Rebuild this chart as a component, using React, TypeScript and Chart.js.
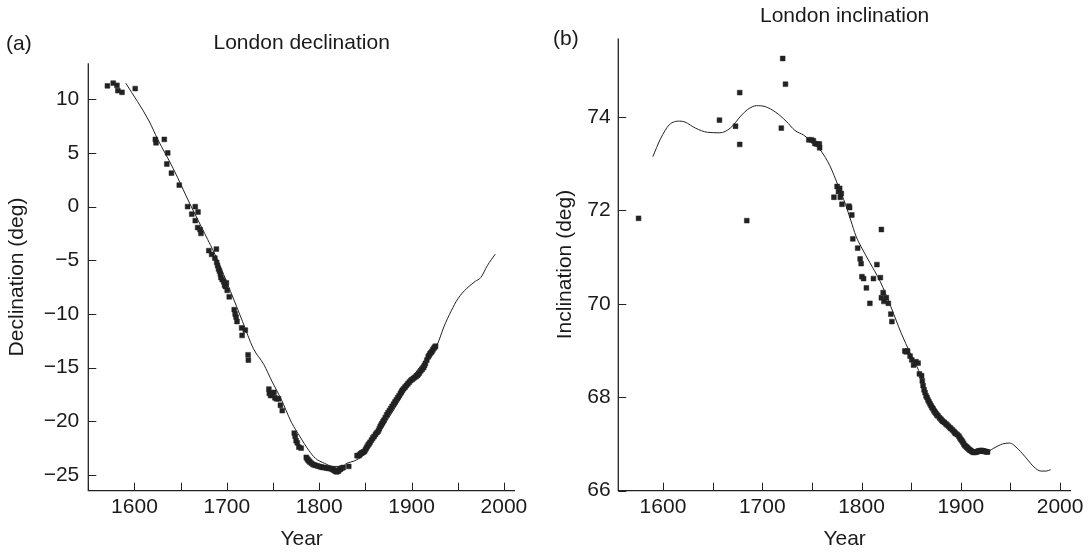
import React, { useEffect, useRef } from "react";
import { Chart, registerables } from "chart.js";

Chart.register(...registerables);

// ---------------- Data: London declination (panel a) ----------------
const declObsYears = [
  1570.7, 1577, 1581, 1582, 1586.5, 1600.8,
  1622.6, 1623.3, 1632.3, 1636, 1635, 1640, 1648.5,
  1657.5, 1665.8, 1662, 1665.8, 1668.8, 1668.4, 1671, 1672,
  1680.5, 1683.5, 1688.7, 1687, 1689, 1690, 1691, 1692, 1693, 1693.6, 1695, 1696.6, 1697.5, 1698.5, 1699.5, 1700.4, 1702.6,
  1708, 1709, 1710, 1711, 1716, 1716.5, 1720, 1723, 1723.3,
  1745.5, 1746, 1747.4, 1749, 1751, 1752, 1753.8, 1756, 1758, 1760,
  1773, 1774, 1775, 1776.3, 1778, 1780.5,
  1786, 1787, 1788, 1789, 1790, 1791.5, 1793, 1794.5, 1796, 1798, 1800, 1802, 1804, 1806, 1808, 1810, 1812, 1814,
  1815, 1816, 1817, 1818, 1819, 1820, 1821, 1822, 1823, 1824.5, 1826, 1832,
  1841, 1842, 1843, 1844, 1845, 1846, 1847, 1848, 1849, 1850, 1851, 1852, 1853, 1854, 1855, 1856.5, 1858, 1859.5,
  1861, 1862.5, 1864, 1865, 1866, 1867, 1868, 1869, 1870, 1871.5, 1873, 1874.5, 1876, 1877.5, 1879, 1880.5, 1882,
  1883.5, 1885, 1886.5, 1888, 1889, 1890, 1891.5, 1893, 1894.5, 1896, 1897.5, 1899, 1900.5, 1902, 1903.5, 1905,
  1906, 1907, 1908.5, 1910, 1911.5, 1913, 1914, 1915, 1916.5, 1918, 1919, 1920, 1921, 1922, 1923, 1924, 1925, 1926,
];
const declObsValues = [
  11.25, 11.5, 11.3, 10.8, 10.65, 11.0,
  6.26, 5.95, 6.26, 5.0, 3.97, 3.12, 2.0,
  0.0, 0.0, -0.7, -1.3, -0.5, -1.95, -2.15, -2.5,
  -4.1, -4.45, -3.95, -4.8, -5.2, -5.5, -5.8, -6.0, -6.3, -6.6, -6.8, -7.0, -7.3, -7.45, -7.1, -7.8, -8.4,
  -9.6, -10.0, -10.3, -10.7, -11.3, -12.0, -11.5, -13.8, -14.3,
  -17.0, -17.4, -17.6, -17.4, -17.3, -17.8, -17.9, -17.9, -18.5, -19.0,
  -21.1, -21.4, -21.8, -22.0, -22.4, -22.5,
  -23.35, -23.5, -23.6, -23.7, -23.8, -23.9, -24.0, -24.05, -24.1, -24.15, -24.2, -24.25, -24.3, -24.3, -24.35, -24.38, -24.4, -24.45,
  -24.5, -24.55, -24.6, -24.65, -24.7, -24.65, -24.6, -24.5, -24.45, -24.35, -24.3, -24.2,
  -23.2, -23.2, -23.2, -23.1, -23.0, -22.95, -22.9, -22.85, -22.8, -22.65, -22.5, -22.35, -22.2, -22.1, -21.95, -21.75, -21.55, -21.4,
  -21.2, -21.05, -20.9, -20.7, -20.5, -20.35, -20.2, -20.05, -19.9, -19.65, -19.4, -19.2, -19.0, -18.8, -18.6, -18.4, -18.2,
  -18.0, -17.8, -17.6, -17.4, -17.25, -17.1, -16.95, -16.8, -16.65, -16.5, -16.35, -16.2, -16.1, -16.0, -15.9, -15.8,
  -15.72, -15.65, -15.5, -15.3, -15.15, -15.0, -14.8, -14.6, -14.3, -14.0, -13.85, -13.7, -13.6, -13.5, -13.35, -13.2, -13.1, -13.0,
];
const declModelYears = [
  1590.6, 1615.8, 1625, 1642, 1660, 1676, 1689, 1704, 1717, 1728.6, 1740, 1749, 1758.6, 1770, 1779, 1788.7,
  1796, 1805.6, 1815, 1824.4, 1830, 1837.6, 1847, 1860, 1875, 1890, 1905, 1920, 1927.8, 1935, 1943, 1950,
  1960, 1969, 1975, 1982, 1990.6,
];
const declModelValues = [
  11.5, 7.97, 6.3, 3.54, 0.26, -2.5, -4.8, -7.9, -10.7, -13.2, -14.7, -16.3, -17.9, -20.1, -21.4, -22.7,
  -23.45, -23.9, -24.2, -24.2, -23.9, -23.7, -23.2, -21.7, -19.7, -17.6, -15.4, -13.8, -12.85, -11.2, -9.7, -8.6,
  -7.6, -6.96, -6.6, -5.5, -4.43,
];

// ---------------- Data: London inclination (panel b) ----------------
const inclObsYears = [
  1575.4, 1656.9, 1673.1, 1677.3, 1677.3, 1684.4, 1720.6, 1723.4, 1719.2,
  1746.9, 1749.4, 1751.5, 1753, 1755, 1757.8, 1757.5,
  1772.2, 1775.4, 1776.8, 1778.6, 1780.3, 1778, 1779.6, 1787.3, 1788, 1790.2, 1791.2, 1796.1, 1798.6, 1799.6,
  1800.4, 1802.1, 1804.9, 1808.4, 1812, 1815.5, 1819, 1820, 1820, 1821.8, 1822.5, 1825, 1827, 1829.5, 1830.6,
  1843.6, 1845, 1846.4, 1848.9, 1850.6, 1852.4, 1854.8, 1857, 1858.3, 1860.5, 1861.2,
  1862, 1863, 1864, 1865, 1866, 1867, 1868, 1869, 1870, 1871, 1872, 1873, 1874, 1875, 1876, 1877, 1878.5, 1880,
  1881, 1882, 1883.5, 1885, 1886, 1887.5, 1889, 1890, 1891.5, 1893, 1894, 1895, 1896.5, 1898, 1899, 1900, 1901,
  1902, 1903, 1904, 1905, 1906, 1907, 1908, 1909, 1910, 1911, 1912, 1913, 1914, 1915, 1916, 1917, 1918, 1919,
  1920, 1921, 1922, 1923, 1924, 1925, 1926, 1927,
];
const inclObsValues = [
  71.83, 73.93, 73.8, 74.52, 73.41, 71.78, 75.25, 74.7, 73.76,
  73.51, 73.51, 73.49, 73.43, 73.42, 73.34, 73.42,
  72.28, 72.51, 72.4, 72.28, 72.13, 72.47, 72.36, 72.09, 72.06, 71.9, 71.39, 71.19, 70.96, 70.86,
  70.58, 70.54, 70.34, 70.01, 70.54, 70.84, 70.56, 71.59, 70.13, 70.24, 70.05, 70.13, 70.01, 69.78, 69.62,
  68.99, 68.97, 68.99, 68.88, 68.8, 68.69, 68.76, 68.73, 68.5, 68.46, 68.35,
  68.25, 68.16, 68.1, 68.03, 67.99, 67.94, 67.9, 67.86, 67.82, 67.78, 67.75, 67.71, 67.68, 67.65, 67.62, 67.6, 67.56, 67.53,
  67.5, 67.48, 67.46, 67.43, 67.41, 67.38, 67.35, 67.33, 67.3, 67.27, 67.24, 67.22, 67.2, 67.17, 67.13, 67.1, 67.07,
  67.04, 67.0, 66.97, 66.95, 66.93, 66.91, 66.89, 66.87, 66.86, 66.84, 66.83, 66.82, 66.82, 66.83, 66.83, 66.84, 66.85, 66.85,
  66.86, 66.86, 66.85, 66.85, 66.84, 66.84, 66.83, 66.83,
];
const inclModelYears = [
  1589.8, 1597.5, 1606.3, 1616.9, 1622.1, 1632.7, 1645, 1657.3, 1667.8, 1678.4, 1685.4, 1694.2, 1703, 1713.5,
  1724, 1732.9, 1741.7, 1748.7, 1759.2, 1768, 1776.8, 1783.8, 1789.1, 1794.4, 1799.6, 1808.4, 1819, 1829.5,
  1840, 1848.9, 1857.6, 1864.7, 1875.2, 1889.3, 1903.3, 1913.9, 1924.4, 1933.2, 1942, 1949, 1957.8, 1966.6,
  1973.6, 1980.7, 1986, 1990.5,
];
const inclModelValues = [
  73.15, 73.53, 73.83, 73.91, 73.89, 73.76, 73.67, 73.66, 73.76, 74.02, 74.16, 74.24, 74.22, 74.1,
  73.91, 73.71, 73.61, 73.49, 73.27, 72.96, 72.51, 72.13, 71.79, 71.45, 71.22, 70.88, 70.47, 69.94,
  69.37, 68.95, 68.57, 68.12, 67.74, 67.36, 67.02, 66.83, 66.82, 66.91, 67.0, 67.02, 66.89, 66.68,
  66.51, 66.42, 66.42, 66.45,
];

// ---------------- Text ----------------
const declTitle = "London declination";
const inclTitle = "London inclination";
const declTag = "(a)";
const inclTag = "(b)";
const xAxisLabel = "Year";
const declAxisLabel = "Declination (deg)";
const inclAxisLabel = "Inclination (deg)";

const FONT_FAMILY = '"Liberation Sans", Arial, Helvetica, sans-serif';
const FONT_SIZE = 21;
const TEXT_COLOR = "#1a1a1a";
const INK = "#222222";

const toPoints = (xs: number[], ys: number[]) => xs.map((x, i) => ({ x, y: ys[i] }));

const minusFmt = (v: number) => (v < 0 ? "\u2212" + Math.abs(v) : String(v));

function decorPlugin(title: string, titleY: number, tag: string, tagX: number, tagY: number) {
  return {
    id: "decor",
    afterDraw(chart: any) {
      const { ctx, chartArea: a, scales } = chart;
      ctx.save();
      ctx.strokeStyle = INK;
      ctx.lineWidth = 1.3;
      ctx.beginPath();
      ctx.moveTo(a.left, a.top);
      ctx.lineTo(a.left, a.bottom);
      ctx.lineTo(a.right, a.bottom);
      ctx.stroke();
      ctx.lineWidth = 1;
      ctx.beginPath();
      for (const t of scales.x.ticks) {
        const px = Math.round(scales.x.getPixelForValue(t.value)) + 0.5;
        ctx.moveTo(px, a.bottom);
        ctx.lineTo(px, a.bottom - 8);
      }
      for (const t of scales.y.ticks) {
        const py = Math.round(scales.y.getPixelForValue(t.value)) + 0.5;
        ctx.moveTo(a.left, py);
        ctx.lineTo(a.left + 8, py);
      }
      ctx.stroke();
      ctx.fillStyle = TEXT_COLOR;
      ctx.font = `${FONT_SIZE}px ${FONT_FAMILY}`;
      ctx.textBaseline = "middle";
      ctx.textAlign = "center";
      ctx.fillText(title, (a.left + a.right) / 2, titleY);
      ctx.textAlign = "left";
      ctx.fillText(tag, tagX, tagY);
      ctx.restore();
    },
  };
}

interface PanelSpec {
  obs: { x: number; y: number }[];
  model: { x: number; y: number }[];
  xMin: number;
  xMax: number;
  yMin: number;
  yMax: number;
  yStep: number;
  yLabel: string;
  yAxisWidth: number;
  yTitlePad: number;
  yTickPad: number;
  padTop: number;
  padRight: number;
  title: string;
  titleY: number;
  tag: string;
  tagX: number;
  tagY: number;
}

function makeConfig(p: PanelSpec): any {
  const font = { family: FONT_FAMILY, size: FONT_SIZE };
  return {
    type: "scatter",
    data: {
      datasets: [
        {
          data: p.obs,
          pointStyle: "rect",
          pointRadius: 3.4,
          pointBackgroundColor: INK,
          pointBorderColor: INK,
          pointBorderWidth: 0.5,
          showLine: false,
        },
        {
          data: p.model,
          showLine: true,
          pointRadius: 0,
          borderColor: INK,
          borderWidth: 1,
          cubicInterpolationMode: "monotone",
          fill: false,
        },
      ],
    },
    options: {
      responsive: false,
      animation: false,
      events: [],
      layout: { padding: { top: p.padTop, right: p.padRight, left: 0, bottom: 0 } },
      plugins: { legend: { display: false }, tooltip: { enabled: false }, title: { display: false } },
      scales: {
        x: {
          type: "linear",
          min: p.xMin,
          max: p.xMax,
          afterFit: (s: any) => {
            s.height = 61.3;
          },
          grid: { display: false, drawTicks: false },
          border: { display: false },
          ticks: {
            stepSize: 50,
            includeBounds: false,
            autoSkip: false,
            maxRotation: 0,
            padding: 4,
            font,
            color: TEXT_COLOR,
            callback: (v: number) => (Math.round(v) % 100 === 0 ? String(Math.round(v)) : ""),
          },
          title: { display: true, text: xAxisLabel, font, color: TEXT_COLOR, padding: { top: 0, bottom: 0 } },
        },
        y: {
          type: "linear",
          min: p.yMin,
          max: p.yMax,
          afterFit: (s: any) => {
            s.width = p.yAxisWidth;
          },
          grid: { display: false, drawTicks: false },
          border: { display: false },
          ticks: {
            stepSize: p.yStep,
            includeBounds: false,
            autoSkip: false,
            padding: p.yTickPad,
            font,
            color: TEXT_COLOR,
            callback: (v: number) => minusFmt(Math.round(v)),
          },
          title: { display: true, text: p.yLabel, font, color: TEXT_COLOR, padding: { top: p.yTitlePad, bottom: 0 } },
        },
      },
    },
    plugins: [decorPlugin(p.title, p.titleY, p.tag, p.tagX, p.tagY)],
  };
}

export default function App() {
  const leftRef = useRef<HTMLCanvasElement>(null);
  const rightRef = useRef<HTMLCanvasElement>(null);

  useEffect(() => {
    const left = new Chart(
      leftRef.current as HTMLCanvasElement,
      makeConfig({
        obs: toPoints(declObsYears, declObsValues),
        model: toPoints(declModelYears, declModelValues),
        xMin: 1550,
        xMax: 2012,
        yMin: -26.46,
        yMax: 13.35,
        yStep: 5,
        yLabel: declAxisLabel,
        yAxisWidth: 88.3,
        yTitlePad: 4.8,
        yTickPad: 9,
        padTop: 63.3,
        padRight: 30,
        title: declTitle,
        titleY: 43,
        tag: declTag,
        tagX: 6,
        tagY: 44,
      })
    );
    const right = new Chart(
      rightRef.current as HTMLCanvasElement,
      makeConfig({
        obs: toPoints(inclObsYears, inclObsValues),
        model: toPoints(inclModelYears, inclModelValues),
        xMin: 1555,
        xMax: 2011,
        yMin: 66,
        yMax: 75.68,
        yStep: 2,
        yLabel: inclAxisLabel,
        yAxisWidth: 72.3,
        yTitlePad: 6.6,
        yTickPad: 7.6,
        padTop: 38.4,
        padRight: 20,
        title: inclTitle,
        titleY: 16.7,
        tag: inclTag,
        tagX: 7,
        tagY: 39.5,
      })
    );
    return () => {
      left.destroy();
      right.destroy();
    };
  }, []);

  return (
    <div style={{ position: "fixed", left: 0, top: 0, width: 1091, height: 552, background: "#ffffff" }}>
      <canvas
        ref={leftRef}
        width={545}
        height={552}
        style={{ position: "absolute", left: 0, top: 0, width: 545, height: 552 }}
      />
      <canvas
        ref={rightRef}
        width={545}
        height={552}
        style={{ position: "absolute", left: 546, top: 0, width: 545, height: 552 }}
      />
    </div>
  );
}
